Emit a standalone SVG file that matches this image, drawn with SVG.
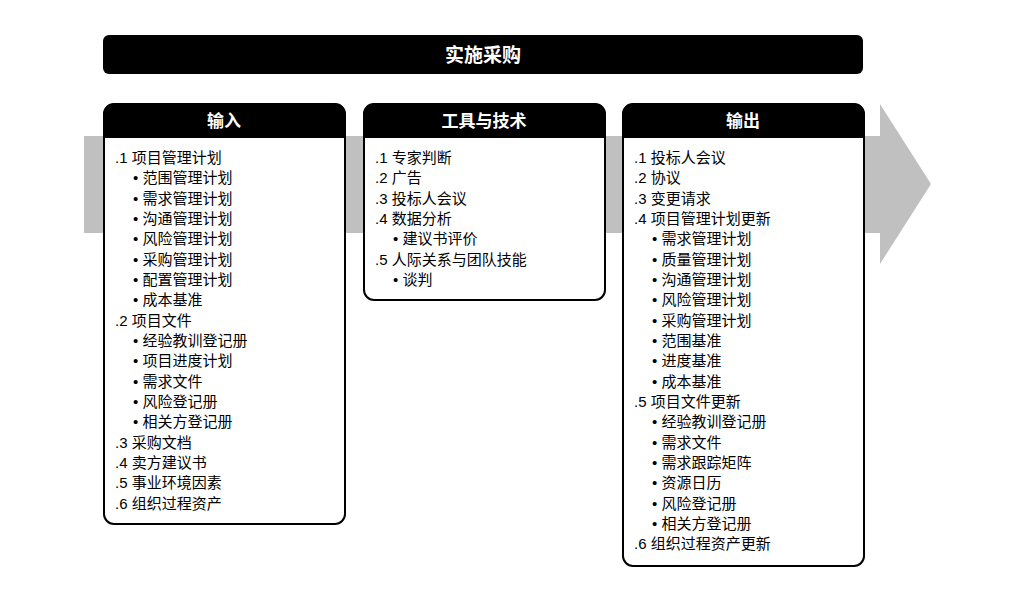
<svg xmlns="http://www.w3.org/2000/svg" width="1024" height="592" viewBox="0 0 1024 592" xml:space="preserve">
<style>
.t{font-family:"Liberation Sans","Noto Sans CJK SC",sans-serif;font-size:15px;fill:#000}
.h{font-family:"Liberation Sans","Noto Sans CJK SC",sans-serif;font-size:17px;font-weight:bold;fill:#fff;text-anchor:middle}
.box{fill:#fff;stroke:#000;stroke-width:2}
</style>
<rect width="1024" height="592" fill="#fff"/>
<g id="arrow"><path d="M84 136 H880 V104 L931 184 L880 264 V233 H84 Z" fill="#c0c0c0"/></g>
<g id="title"><rect x="103" y="35" width="760" height="39" rx="6" fill="#000"/><text class="h" x="483" y="62" style="font-size:19px">实施采购</text></g>
<g id="connectors"></g>
<g id="inputs">
<rect class="box" x="104" y="104" width="241" height="420" rx="10"/>
<path d="M103 138 V117 Q103 103 117 103 H332 Q346 103 346 117 V138 Z" fill="#000"/>
<text class="h" x="224" y="127">输入</text>
<g class="t">
<text x="115" y="163">.1  项目管理计划</text>
<text x="133" y="183">•  范围管理计划</text>
<text x="133" y="204">•  需求管理计划</text>
<text x="133" y="224">•  沟通管理计划</text>
<text x="133" y="244">•  风险管理计划</text>
<text x="133" y="265">•  采购管理计划</text>
<text x="133" y="285">•  配置管理计划</text>
<text x="133" y="305">•  成本基准</text>
<text x="115" y="326">.2  项目文件</text>
<text x="133" y="346">•  经验教训登记册</text>
<text x="133" y="366">•  项目进度计划</text>
<text x="133" y="387">•  需求文件</text>
<text x="133" y="407">•  风险登记册</text>
<text x="133" y="427">•  相关方登记册</text>
<text x="115" y="448">.3  采购文档</text>
<text x="115" y="468">.4  卖方建议书</text>
<text x="115" y="488">.5  事业环境因素</text>
<text x="115" y="509">.6  组织过程资产</text>
</g>
</g>
<g id="tools">
<rect class="box" x="364" y="104" width="241" height="196" rx="10"/>
<path d="M363 138 V117 Q363 103 377 103 H592 Q606 103 606 117 V138 Z" fill="#000"/>
<text class="h" x="484" y="127">工具与技术</text>
<g class="t">
<text x="375" y="163">.1  专家判断</text>
<text x="375" y="183">.2  广告</text>
<text x="375" y="204">.3  投标人会议</text>
<text x="375" y="224">.4  数据分析</text>
<text x="393" y="244">•  建议书评价</text>
<text x="375" y="265">.5  人际关系与团队技能</text>
<text x="393" y="285">•  谈判</text>
</g>
</g>
<g id="outputs">
<rect class="box" x="623" y="104" width="241" height="462" rx="10"/>
<path d="M622 138 V117 Q622 103 636 103 H851 Q865 103 865 117 V138 Z" fill="#000"/>
<text class="h" x="743" y="127">输出</text>
<g class="t">
<text x="634" y="163">.1  投标人会议</text>
<text x="634" y="183">.2  协议</text>
<text x="634" y="204">.3  变更请求</text>
<text x="634" y="224">.4  项目管理计划更新</text>
<text x="652" y="244">•  需求管理计划</text>
<text x="652" y="265">•  质量管理计划</text>
<text x="652" y="285">•  沟通管理计划</text>
<text x="652" y="305">•  风险管理计划</text>
<text x="652" y="326">•  采购管理计划</text>
<text x="652" y="346">•  范围基准</text>
<text x="652" y="366">•  进度基准</text>
<text x="652" y="387">•  成本基准</text>
<text x="634" y="407">.5  项目文件更新</text>
<text x="652" y="427">•  经验教训登记册</text>
<text x="652" y="448">•  需求文件</text>
<text x="652" y="468">•  需求跟踪矩阵</text>
<text x="652" y="488">•  资源日历</text>
<text x="652" y="509">•  风险登记册</text>
<text x="652" y="529">•  相关方登记册</text>
<text x="634" y="549">.6  组织过程资产更新</text>
</g>
</g>
</svg>
